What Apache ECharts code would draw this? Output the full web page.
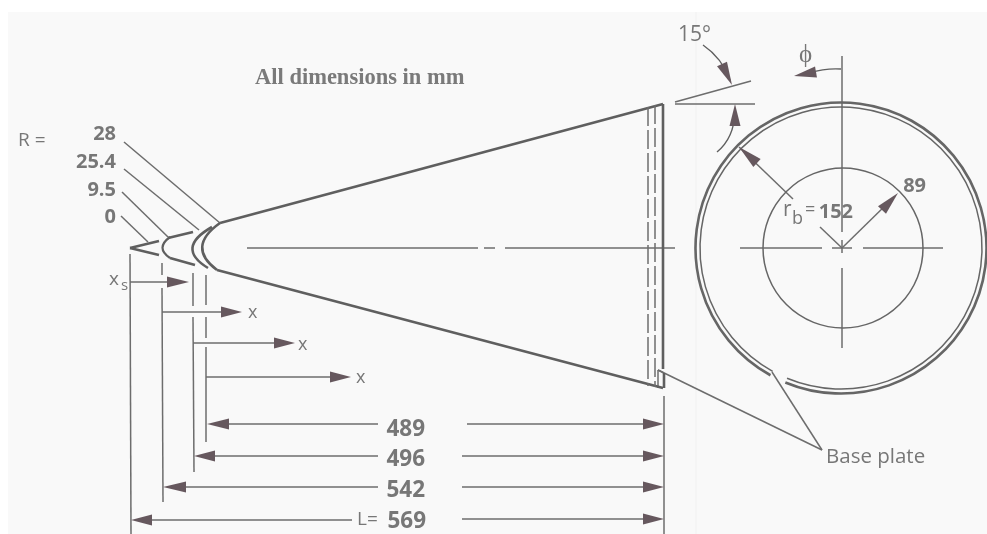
<!DOCTYPE html>
<html>
<head>
<meta charset="utf-8">
<title>Cone dimensions</title>
<script src="https://cdn.jsdelivr.net/npm/echarts@6/dist/echarts.min.js"></script>
<style>
  html, body { margin: 0; padding: 0; background: #fff; }
  #chart { width: 987px; height: 534px; filter: blur(0.45px); }
</style>
</head>
<body>
<div id="chart"></div>
<script>
const panel = [[8, 12, 987, 534]]

// faint scan line in the paper
const paperLines = [[696, 12, 696, 534]]

// x1, y1, x2, y2
const heavyLines = [
  [220, 223, 663, 104],
  [217, 270, 663, 388],
  [663, 104, 663, 369],
  [664, 373, 664, 388],
  [168, 238, 193, 232],
  [170, 258, 195, 265],
  [130, 248, 159, 241],
  [130, 248, 159, 255]
]
const thinLines = [
  [124, 142, 220, 223], [124, 169, 199, 230], [122, 192, 168, 237], [121, 216, 148, 242],
  [130, 254, 131, 534], [162, 263, 162, 275], [162, 288, 163, 502],
  [193, 273, 193, 306], [193, 317, 194, 472],
  [206, 275, 206, 305], [206, 317, 206, 338], [206, 347, 206, 442],
  [664, 396, 664, 534],
  [130, 282, 170, 282], [162, 312, 225, 312], [193, 343, 278, 343], [206, 377, 334, 377],
  [225, 424, 378, 424], [212, 456, 378, 456], [182, 487, 378, 487], [150, 520, 352, 520],
  [467, 424, 646, 424], [462, 456, 646, 456], [462, 487, 646, 487], [462, 519, 646, 519],
  [675, 102, 751, 81], [675, 104, 755, 104],
  [842, 56, 842, 232], [842, 240, 842, 253], [842, 268, 842, 348],
  [740, 248, 822, 248], [832, 248, 852, 248], [863, 248, 943, 248],
  [247, 248, 478, 248], [484, 248, 495, 248], [505, 248, 675, 248],
  [739, 147, 793, 199], [820, 227, 842, 248], [842, 248, 890, 201],
  [658, 370, 822, 450], [772, 372, 822, 450], [658, 370, 658, 388], [658, 370, 664, 373]
]
// dashed liner behind the base
const dashedLines = [
  [648, 107, 648, 386],
  [655, 105, 655, 387]
]

// x1, y1, control x, control y, x2, y2, width
const curves = [
  [220, 223, 186, 247, 217, 270, 2.6],
  [212, 227, 175, 248, 208, 268, 2.6],
  [170, 237, 155, 248, 170, 258, 2.2],
  [703, 45, 722, 58, 730, 80, 1.4],
  [717, 152, 734, 138, 735, 112, 1.4],
  [841, 69, 825, 68, 810, 73, 1.4]
]

// centre x, centre y, radius, start deg, end deg, width
const circles = [
  [841, 248, 145.5, 119, 472.5, 2.6],
  [841, 248, 141, 119, 472.5, 1.5],
  [843, 248, 80, 0, 360, 1.5]
]

// tip x, tip y, base x, base y
const arrows = [
  [189, 282, 167, 282], [242, 312, 221, 312], [295, 343, 274, 343], [351, 377, 330, 377],
  [207, 424, 229, 424], [194, 456, 215, 456], [163, 487, 186, 487], [131, 520, 152, 520],
  [664, 424, 643, 424], [664, 456, 643, 456], [664, 487, 643, 487], [664, 519, 643, 519],
  [732, 85, 722, 64], [735, 104, 735, 126], [794, 76, 816, 72],
  [739, 147, 757, 163], [898, 193, 882, 210]
]

// text, x, y, size
const boldLabels = [
  ['28', 116, 134, 20], ['25.4', 116, 162, 20], ['9.5', 116, 190, 20], ['0', 116, 217, 20],
  ['489', 425, 430, 22.5], ['496', 425, 460, 22.5], ['542', 425, 491, 22.5], ['569', 426, 522, 22.5],
  ['152', 853, 212, 20], ['89', 926, 186, 20]
]
const thinLabels = [
  ['R =', 18, 141, 19], ['15°', 678, 35, 21], ['ϕ', 799, 55, 25],
  ['x', 248, 313, 18], ['x', 298, 345, 18], ['x', 356, 378, 18],
  ['x', 109, 280, 19], ['s', 121, 286, 15], ['L=', 357, 520, 19],
  ['r', 783, 210, 21], ['b', 792, 219, 18], ['=', 805, 210, 18],
  ['Base plate', 826, 457, 20.5]
]
const titleText = [['All dimensions in mm', 255, 78]]

const lineColor = '#6d6d6d'
const arrowColor = '#66585e'
const labelColor = '#777777'

const chart = echarts.init(document.getElementById('chart'))

const lineSeries = (rows, width, color, dash) => ({
  type: 'custom',
  silent: true,
  data: rows,
  renderItem: (params, api) => {
    const a = api.coord([api.value(0), api.value(1)])
    const b = api.coord([api.value(2), api.value(3)])
    return {
      type: 'line',
      shape: { x1: a[0], y1: a[1], x2: b[0], y2: b[1] },
      style: { stroke: color, lineWidth: width, lineDash: dash || null, fill: null }
    }
  }
})

const option = {
  animation: false,
  backgroundColor: '#ffffff',
  grid: { left: 0, right: 0, top: 0, bottom: 0 },
  xAxis: { type: 'value', min: 0, max: 987, show: false },
  yAxis: { type: 'value', min: 0, max: 534, inverse: true, show: false },
  series: [
    {
      type: 'custom',
      silent: true,
      data: panel,
      renderItem: (params, api) => {
        const a = api.coord([api.value(0), api.value(1)])
        const b = api.coord([api.value(2), api.value(3)])
        return {
          type: 'rect',
          shape: { x: a[0], y: a[1], width: b[0] - a[0], height: b[1] - a[1] },
          style: { fill: '#f9f9f9' }
        }
      }
    },
    lineSeries(paperLines, 1, '#f1f1f1'),
    lineSeries(thinLines, 1.5, lineColor),
    lineSeries(heavyLines, 2.6, '#5f5f5f'),
    lineSeries(dashedLines, 1.5, lineColor, [19, 4]),
    {
      type: 'custom',
      silent: true,
      data: curves,
      renderItem: (params, api) => {
        const a = api.coord([api.value(0), api.value(1)])
        const c = api.coord([api.value(2), api.value(3)])
        const b = api.coord([api.value(4), api.value(5)])
        return {
          type: 'bezierCurve',
          shape: { x1: a[0], y1: a[1], cpx1: c[0], cpy1: c[1], x2: b[0], y2: b[1] },
          style: { stroke: '#5f5f5f', lineWidth: api.value(6), fill: null }
        }
      }
    },
    {
      type: 'custom',
      silent: true,
      data: circles,
      renderItem: (params, api) => {
        const c = api.coord([api.value(0), api.value(1)])
        return {
          type: 'arc',
          shape: {
            cx: c[0], cy: c[1], r: api.size([api.value(2), 0])[0],
            startAngle: api.value(3) * Math.PI / 180,
            endAngle: api.value(4) * Math.PI / 180,
            clockwise: true
          },
          style: { stroke: '#666666', lineWidth: api.value(5), fill: null }
        }
      }
    },
    {
      type: 'custom',
      silent: true,
      data: arrows,
      renderItem: (params, api) => {
        const tip = api.coord([api.value(0), api.value(1)])
        const base = api.coord([api.value(2), api.value(3)])
        const dx = base[0] - tip[0]
        const dy = base[1] - tip[1]
        const len = Math.sqrt(dx * dx + dy * dy)
        const nx = -dy / len * 5.5
        const ny = dx / len * 5.5
        return {
          type: 'polygon',
          shape: { points: [tip, [base[0] + nx, base[1] + ny], [base[0] - nx, base[1] - ny]] },
          style: { fill: arrowColor }
        }
      }
    },
    {
      type: 'custom',
      silent: true,
      data: boldLabels.map((d, i) => [d[1], d[2], d[3], i]),
      renderItem: (params, api) => {
        const p = api.coord([api.value(0), api.value(1)])
        return {
          type: 'text',
          x: p[0], y: p[1],
          style: {
            text: boldLabels[api.value(3)][0], fill: labelColor, align: 'right', verticalAlign: 'middle',
            font: 'bold ' + api.value(2) + 'px "Open Sans"'
          }
        }
      }
    },
    {
      type: 'custom',
      silent: true,
      data: thinLabels.map((d, i) => [d[1], d[2], d[3], i]),
      renderItem: (params, api) => {
        const p = api.coord([api.value(0), api.value(1)])
        return {
          type: 'text',
          x: p[0], y: p[1],
          style: {
            text: thinLabels[api.value(3)][0], fill: labelColor, align: 'left', verticalAlign: 'middle',
            font: api.value(2) + 'px "Open Sans"'
          }
        }
      }
    },
    {
      type: 'custom',
      silent: true,
      data: titleText.map((d, i) => [d[1], d[2], i]),
      renderItem: (params, api) => {
        const p = api.coord([api.value(0), api.value(1)])
        return {
          type: 'text',
          x: p[0], y: p[1],
          style: {
            text: titleText[api.value(2)][0], fill: '#7a7a7a', align: 'left', verticalAlign: 'middle',
            font: 'bold 22.5px "Liberation Serif"'
          }
        }
      }
    }
  ]
}

chart.setOption(option)
</script>
</body>
</html>
